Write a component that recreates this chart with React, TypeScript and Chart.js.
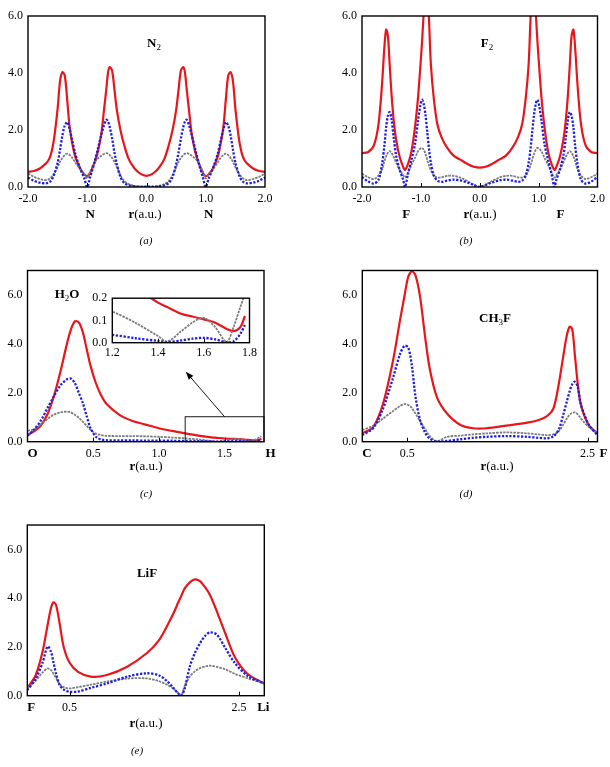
import React, { useEffect, useRef } from "react";
import { Chart, registerables } from "chart.js";
Chart.register(...registerables);

const SERIF = "'Liberation Serif', 'Times New Roman', serif";
const RED = "#e8161b";
const BLUE = "#1c1ce6";
const GRAY = "#7c7c7c";

// ---------------- (a) N2 ----------------
const N2_X = [-2.0, -1.9, -1.8, -1.7, -1.66, -1.62, -1.58, -1.55, -1.5, -1.46, -1.42, -1.38, -1.34, -1.3, -1.25, -1.2, -1.12, -1.05, -1.0, -0.95, -0.88, -0.82, -0.76, -0.72, -0.68, -0.65, -0.62, -0.58, -0.54, -0.5, -0.44, -0.38, -0.3, -0.2, -0.1, 0.0,
  0.1, 0.2, 0.3, 0.38, 0.44, 0.5, 0.54, 0.58, 0.62, 0.65, 0.68, 0.72, 0.76, 0.82, 0.88, 0.95, 1.0, 1.05, 1.12, 1.2, 1.25, 1.3, 1.34, 1.38, 1.42, 1.46, 1.5, 1.55, 1.58, 1.62, 1.66, 1.7, 1.8, 1.9, 2.0];
const N2_RED = [0.53, 0.56, 0.65, 0.82, 0.92, 1.1, 1.45, 1.85, 2.75, 3.7, 4.03, 3.92, 3.1, 2.15, 1.5, 1.05, 0.65, 0.45, 0.38, 0.5, 0.85, 1.25, 1.9, 2.65, 3.4, 4.0, 4.21, 4.08, 3.4, 2.7, 2.0, 1.5, 0.98, 0.65, 0.46, 0.39,
  0.46, 0.65, 0.98, 1.5, 2.0, 2.7, 3.4, 4.08, 4.21, 4.0, 3.4, 2.65, 1.9, 1.25, 0.85, 0.5, 0.38, 0.45, 0.65, 1.05, 1.5, 2.15, 3.1, 3.92, 4.03, 3.7, 2.75, 1.85, 1.45, 1.1, 0.92, 0.82, 0.65, 0.56, 0.53];
const N2_BLUE = [0.33, 0.22, 0.15, 0.13, 0.15, 0.2, 0.33, 0.5, 0.85, 1.3, 1.8, 2.15, 2.28, 2.05, 1.6, 1.15, 0.65, 0.3, 0.0, 0.35, 0.85, 1.35, 1.85, 2.15, 2.36, 2.3, 2.1, 1.7, 1.2, 0.8, 0.35, 0.15, 0.06, 0.02, 0.0, 0.0,
  0.0, 0.02, 0.06, 0.15, 0.35, 0.8, 1.2, 1.7, 2.1, 2.3, 2.36, 2.15, 1.85, 1.35, 0.85, 0.35, 0.0, 0.3, 0.65, 1.15, 1.6, 2.05, 2.28, 2.15, 1.8, 1.3, 0.85, 0.5, 0.33, 0.2, 0.15, 0.13, 0.15, 0.22, 0.33];
const N2_GRAY = [0.47, 0.36, 0.28, 0.24, 0.26, 0.32, 0.41, 0.5, 0.7, 0.88, 1.02, 1.12, 1.17, 1.13, 1.02, 0.85, 0.62, 0.45, 0.3, 0.55, 0.85, 1.0, 1.1, 1.16, 1.19, 1.17, 1.12, 1.02, 0.88, 0.7, 0.42, 0.22, 0.1, 0.04, 0.02, 0.02,
  0.02, 0.04, 0.1, 0.22, 0.42, 0.7, 0.88, 1.02, 1.12, 1.17, 1.19, 1.16, 1.1, 1.0, 0.85, 0.55, 0.3, 0.45, 0.62, 0.85, 1.02, 1.13, 1.17, 1.12, 1.02, 0.88, 0.7, 0.5, 0.41, 0.32, 0.26, 0.24, 0.28, 0.36, 0.47];

// ---------------- (b) F2 ----------------
const F2_X = [-2.0, -1.9, -1.8, -1.72, -1.66, -1.62, -1.59, -1.56, -1.53, -1.5, -1.46, -1.42, -1.36, -1.3, -1.27, -1.22, -1.16, -1.1, -1.05, -1.01, -0.98, -0.95, -0.92, -0.89, -0.86, -0.83, -0.78, -0.72, -0.65, -0.56, -0.45, -0.33, -0.2, -0.1, 0.0,
  0.1, 0.2, 0.33, 0.45, 0.56, 0.65, 0.72, 0.78, 0.83, 0.86, 0.89, 0.92, 0.95, 0.98, 1.01, 1.05, 1.1, 1.16, 1.22, 1.27, 1.3, 1.36, 1.42, 1.46, 1.5, 1.53, 1.56, 1.59, 1.62, 1.66, 1.72, 1.8, 1.9, 2.0];
const F2_RED = [1.19, 1.22, 1.45, 2.2, 3.6, 4.9, 5.52, 5.3, 4.3, 3.3, 2.3, 1.65, 1.05, 0.7, 0.6, 0.8, 1.25, 2.1, 3.1, 4.2, 5.1, 6.2, 7.4, 7.2, 5.8, 4.3, 3.1, 2.2, 1.75, 1.4, 1.11, 0.96, 0.8, 0.71, 0.68,
  0.71, 0.8, 0.96, 1.11, 1.4, 1.75, 2.2, 3.1, 4.3, 5.8, 7.2, 7.4, 6.2, 5.1, 4.2, 3.1, 2.1, 1.25, 0.8, 0.6, 0.7, 1.05, 1.65, 2.3, 3.3, 4.3, 5.3, 5.52, 4.9, 3.6, 2.2, 1.45, 1.22, 1.19];
const F2_BLUE = [0.35, 0.2, 0.12, 0.25, 0.8, 1.45, 2.1, 2.5, 2.63, 2.4, 1.7, 1.1, 0.6, 0.25, 0.0, 0.45, 0.95, 1.5, 2.3, 2.85, 3.06, 2.9, 2.5, 1.9, 1.3, 0.85, 0.4, 0.22, 0.18, 0.22, 0.26, 0.23, 0.15, 0.07, 0.0,
  0.07, 0.15, 0.23, 0.26, 0.22, 0.18, 0.22, 0.4, 0.85, 1.3, 1.9, 2.5, 2.9, 3.06, 2.85, 2.3, 1.5, 0.95, 0.45, 0.0, 0.25, 0.6, 1.1, 1.7, 2.4, 2.63, 2.5, 2.1, 1.45, 0.8, 0.25, 0.12, 0.2, 0.35];
const F2_GRAY = [0.47, 0.35, 0.28, 0.4, 0.62, 0.9, 1.08, 1.2, 1.26, 1.2, 1.05, 0.85, 0.6, 0.42, 0.33, 0.5, 0.78, 1.02, 1.25, 1.35, 1.37, 1.3, 1.15, 0.95, 0.75, 0.58, 0.4, 0.33, 0.34, 0.39, 0.39, 0.33, 0.2, 0.08, 0.0,
  0.08, 0.2, 0.33, 0.39, 0.39, 0.34, 0.33, 0.4, 0.58, 0.75, 0.95, 1.15, 1.3, 1.37, 1.35, 1.25, 1.02, 0.78, 0.5, 0.33, 0.42, 0.6, 0.85, 1.05, 1.2, 1.26, 1.2, 1.08, 0.9, 0.62, 0.4, 0.28, 0.35, 0.47];

// ---------------- (c) H2O ----------------
const H2O_X = [0, 0.05, 0.1, 0.15, 0.2, 0.25, 0.3, 0.33, 0.36, 0.39, 0.42, 0.45, 0.48, 0.52, 0.56, 0.6, 0.7, 0.8, 0.9, 1.0, 1.1, 1.2, 1.3, 1.4, 1.44, 1.5, 1.55, 1.6, 1.65, 1.7, 1.73, 1.76, 1.78];
const H2O_RED = [0.27, 0.42, 0.65, 1.1, 1.85, 2.85, 4.0, 4.58, 4.92, 4.88, 4.5, 3.8, 3.1, 2.4, 1.9, 1.55, 1.1, 0.85, 0.7, 0.55, 0.44, 0.34, 0.25, 0.18, 0.16, 0.13, 0.118, 0.105, 0.09, 0.062, 0.052, 0.07, 0.12];
const H2O_BLUE = [0.25, 0.5, 0.85, 1.35, 1.85, 2.3, 2.55, 2.58, 2.4, 2.0, 1.6, 1.05, 0.55, 0.2, 0.09, 0.06, 0.05, 0.05, 0.045, 0.04, 0.038, 0.035, 0.02, 0.008, 0.003, 0.01, 0.018, 0.022, 0.015, 0.002, 0.006, 0.04, 0.08];
const H2O_GRAY = [0.45, 0.5, 0.7, 0.92, 1.1, 1.2, 1.23, 1.2, 1.1, 0.98, 0.82, 0.65, 0.48, 0.33, 0.27, 0.24, 0.23, 0.23, 0.22, 0.2, 0.17, 0.14, 0.09, 0.03, 0.005, 0.05, 0.09, 0.112, 0.07, 0.003, 0.07, 0.16, 0.22];

// ---------------- (d) CH3F ----------------
const CH3F_X = [0, 0.12, 0.23, 0.34, 0.42, 0.47, 0.51, 0.55, 0.59, 0.64, 0.7, 0.75, 0.83, 0.94, 1.09, 1.23, 1.38, 1.6, 1.83, 1.95, 2.05, 2.12, 2.18, 2.23, 2.27, 2.3, 2.33, 2.36, 2.39, 2.42, 2.46, 2.52, 2.61];
const CH3F_RED = [0.34, 0.6, 1.55, 3.3, 5.0, 6.0, 6.75, 6.97, 6.8, 5.95, 4.2, 2.95, 1.8, 1.15, 0.68, 0.55, 0.55, 0.66, 0.78, 0.88, 1.05, 1.35, 2.35, 3.5, 4.35, 4.7, 4.6, 3.5, 2.4, 1.6, 1.1, 0.65, 0.34];
const CH3F_BLUE = [0.27, 0.55, 1.35, 2.6, 3.6, 3.92, 3.85, 3.1, 1.85, 0.9, 0.35, 0.12, 0.0, 0.03, 0.1, 0.16, 0.2, 0.23, 0.2, 0.16, 0.14, 0.22, 0.5, 1.1, 1.65, 2.05, 2.35, 2.45, 2.25, 1.6, 1.15, 0.65, 0.27];
const CH3F_GRAY = [0.48, 0.65, 0.95, 1.25, 1.46, 1.54, 1.5, 1.38, 1.15, 0.85, 0.5, 0.22, 0.02, 0.2, 0.25, 0.3, 0.34, 0.38, 0.34, 0.3, 0.27, 0.3, 0.42, 0.7, 0.95, 1.1, 1.18, 1.2, 1.12, 0.98, 0.8, 0.58, 0.34];

// ---------------- (e) LiF ----------------
const LIF_X = [0, 0.1, 0.18, 0.24, 0.28, 0.31, 0.34, 0.38, 0.43, 0.5, 0.6, 0.75, 0.94, 1.18, 1.41, 1.55, 1.65, 1.73, 1.78, 1.82, 1.86, 1.92, 1.98, 2.04, 2.1, 2.16, 2.24, 2.34, 2.45, 2.6, 2.8];
const LIF_RED = [0.3, 0.85, 1.8, 2.9, 3.6, 3.83, 3.72, 3.0, 2.0, 1.35, 0.98, 0.78, 0.85, 1.19, 1.74, 2.25, 2.85, 3.4, 3.8, 4.1, 4.4, 4.65, 4.77, 4.7, 4.45, 4.12, 3.45, 2.55, 1.6, 0.9, 0.5];
const LIF_BLUE = [0.23, 0.7, 1.35, 2.02, 1.8, 1.35, 0.9, 0.45, 0.25, 0.16, 0.17, 0.32, 0.5, 0.78, 0.92, 0.84, 0.6, 0.3, 0.1, 0.0, 0.3, 1.2, 1.75, 2.15, 2.45, 2.6, 2.5, 1.95, 1.35, 0.82, 0.5];
const LIF_GRAY = [0.3, 0.62, 0.95, 1.12, 1.05, 0.9, 0.72, 0.48, 0.35, 0.3, 0.35, 0.45, 0.58, 0.7, 0.71, 0.6, 0.45, 0.28, 0.12, 0.02, 0.4, 0.78, 1.0, 1.13, 1.2, 1.23, 1.18, 1.08, 0.9, 0.72, 0.5];

// tick values
const SYM_X_TICKS = [-2, -1, 0, 1, 2];
const SYM_X_MARKS = [-1, 0, 1];
const H2O_X_TICKS = [0.5, 1.0, 1.5];
const MOL_X_TICKS = [0.5, 2.5];
const MAIN_Y_TICKS = [0, 2, 4, 6];
const INSET_X_TICKS = [1.2, 1.4, 1.6, 1.8];
const INSET_Y_TICKS = [0, 0.1, 0.2];

type Part = { t: string; bold?: boolean; sub?: boolean; italic?: boolean };
type Align = "left" | "center" | "right";
type PageText = { parts: Part[]; x: number; y: number; align?: Align; size?: number };
type Atom = { text: string; x: number; row: 1 | 2; align?: Align; dx?: number };

interface PanelDef {
  box: { left: number; top: number; width: number; height: number };
  area: { l: number; t: number; r: number; b: number };
  xMin: number; xMax: number; yMax: number;
  xTicks: number[]; yTicks: number[]; xMarks: number[];
  xs: number[]; red: number[]; blue: number[]; gray: number[];
  atoms: Atom[]; texts: PageText[];
  zoom?: boolean;
  tickPad?: number;
}

function drawParts(ctx: CanvasRenderingContext2D, parts: Part[], x: number, y: number, align: Align, size: number) {
  const fontFor = (p: Part) =>
    `${p.italic ? "italic " : ""}${p.bold ? "bold " : ""}${p.sub ? Math.round(size * 0.72) : size}px ${SERIF}`;
  const widths = parts.map((p) => { ctx.font = fontFor(p); return ctx.measureText(p.t).width; });
  const total = widths.reduce((a, b) => a + b, 0);
  let cx = align === "center" ? x - total / 2 : align === "right" ? x - total : x;
  ctx.textBaseline = "middle";
  ctx.textAlign = "left";
  ctx.fillStyle = "#000";
  parts.forEach((p, i) => {
    ctx.font = fontFor(p);
    ctx.fillText(p.t, cx, y + (p.sub ? size * 0.28 : 0));
    cx += widths[i];
  });
}

function decorPlugin(p: PanelDef) {
  return {
    id: "decor",
    afterDraw(chart: any) {
      const ctx: CanvasRenderingContext2D = chart.ctx;
      const a = chart.chartArea;
      const sx = chart.scales.x;
      const sy = chart.scales.y;
      ctx.save();
      if (p.zoom) {
        ctx.strokeStyle = "#000";
        ctx.lineWidth = 0.9;
        const x0 = sx.getPixelForValue(1.2), x1 = sx.getPixelForValue(1.8);
        const y0 = sy.getPixelForValue(0), y1 = sy.getPixelForValue(1.02);
        ctx.strokeRect(x0, y1, x1 - x0, y0 - y1);
        const ax0 = sx.getPixelForValue(1.5), ay0 = y1;
        const ax1 = sx.getPixelForValue(1.205), ay1 = sy.getPixelForValue(2.86);
        const ang = Math.atan2(ay1 - ay0, ax1 - ax0);
        const L = 8, W = 3;
        const bx = ax1 - L * Math.cos(ang), by = ay1 - L * Math.sin(ang);
        ctx.beginPath(); ctx.moveTo(ax0, ay0); ctx.lineTo(bx, by); ctx.stroke();
        ctx.fillStyle = "#000";
        ctx.beginPath();
        ctx.moveTo(ax1, ay1);
        ctx.lineTo(bx + W * Math.sin(ang), by - W * Math.cos(ang));
        ctx.lineTo(bx - W * Math.sin(ang), by + W * Math.cos(ang));
        ctx.closePath(); ctx.fill();
      }
      ctx.strokeStyle = "#000";
      ctx.lineWidth = 1;
      p.xMarks.forEach((v) => {
        const px = Math.round(sx.getPixelForValue(v)) + 0.5;
        ctx.beginPath(); ctx.moveTo(px, a.bottom); ctx.lineTo(px, a.bottom - 4); ctx.stroke();
      });
      ctx.lineWidth = 1.4;
      ctx.strokeRect(a.left, a.top, a.right - a.left, a.bottom - a.top);
      p.atoms.forEach((at) => {
        drawParts(ctx, [{ t: at.text, bold: true }], sx.getPixelForValue(at.x) + (at.dx || 0),
          a.bottom + (at.row === 1 ? 12 : 27.5), at.align || "center", 13);
      });
      p.texts.forEach((t) => {
        drawParts(ctx, t.parts, t.x - p.box.left, t.y - p.box.top, t.align || "center", t.size || 13);
      });
      ctx.restore();
    },
  };
}

function buildChart(canvas: HTMLCanvasElement, p: PanelDef) {
  const yW = 24, xH = 20;
  const pad = {
    left: p.area.l - p.box.left - yW,
    top: p.area.t - p.box.top,
    right: p.box.left + p.box.width - p.area.r,
    bottom: p.box.top + p.box.height - p.area.b - xH,
  };
  const pts = (ys: number[]) => p.xs.map((x, i) => ({ x, y: ys[i] }));
  const common = { pointRadius: 0, fill: false, tension: 0.3, borderCapStyle: "butt", borderJoinStyle: "round" };
  const tickFont = { family: SERIF, size: 12 };
  return new Chart(canvas, {
    type: "line",
    data: {
      datasets: [
        { ...common, label: "red", data: pts(p.red), borderColor: RED, borderWidth: 2.2, order: 2 },
        { ...common, label: "gray", data: pts(p.gray), borderColor: GRAY, borderWidth: 1.8, borderDash: [2.5, 1], order: 1 },
        { ...common, label: "blue", data: pts(p.blue), borderColor: BLUE, borderWidth: 2.3, borderDash: [2.2, 1.6], order: 0 },
      ] as any,
    },
    options: {
      responsive: false,
      maintainAspectRatio: false,
      animation: false,
      events: [],
      layout: { padding: pad },
      plugins: { legend: { display: false }, tooltip: { enabled: false } },
      scales: {
        x: {
          type: "linear", min: p.xMin, max: p.xMax,
          grid: { display: false, drawTicks: false }, border: { display: false },
          afterBuildTicks: (s: any) => { s.ticks = p.xTicks.map((v) => ({ value: v })); },
          afterFit: (s: any) => { s.height = xH; },
          ticks: { autoSkip: false, maxRotation: 0, padding: p.tickPad ?? 5, color: "#000", font: tickFont,
            callback: (v: any) => Number(v).toFixed(1) },
        },
        y: {
          type: "linear", min: 0, max: p.yMax,
          grid: { display: false, drawTicks: false }, border: { display: false },
          afterBuildTicks: (s: any) => { s.ticks = p.yTicks.map((v) => ({ value: v })); },
          afterFit: (s: any) => { s.width = yW; },
          ticks: { padding: 5, color: "#000", font: tickFont, callback: (v: any) => Number(v).toFixed(1) },
        },
      },
    } as any,
    plugins: [decorPlugin(p)],
  });
}

const RAU: Part[] = [{ t: "r", bold: true }, { t: "(a.u.)" }];
const cap = (s: string, x: number, y: number): PageText => ({ parts: [{ t: s, italic: true }], x, y, size: 11 });

const PANELS: PanelDef[] = [
  {
    box: { left: 0, top: 0, width: 300, height: 255 },
    area: { l: 28, t: 16, r: 265, b: 187 },
    xMin: -2, xMax: 2, yMax: 6, xTicks: SYM_X_TICKS, yTicks: MAIN_Y_TICKS, xMarks: SYM_X_MARKS,
    xs: N2_X, red: N2_RED, blue: N2_BLUE, gray: N2_GRAY,
    atoms: [{ text: "N", x: -0.95, row: 2 }, { text: "N", x: 1.05, row: 2 }],
    texts: [
      { parts: RAU, x: 145, y: 214.5 },
      { parts: [{ t: "N", bold: true }, { t: "2", sub: true }], x: 154, y: 44 },
      cap("(a)", 146, 241),
    ],
  },
  {
    box: { left: 300, top: 0, width: 310, height: 255 },
    area: { l: 362, t: 16, r: 598, b: 187 },
    xMin: -2, xMax: 2, yMax: 6, xTicks: SYM_X_TICKS, yTicks: MAIN_Y_TICKS, xMarks: SYM_X_MARKS,
    xs: F2_X, red: F2_RED, blue: F2_BLUE, gray: F2_GRAY,
    atoms: [{ text: "F", x: -1.25, row: 2 }, { text: "F", x: 1.37, row: 2 }],
    texts: [
      { parts: RAU, x: 480, y: 214.5 },
      { parts: [{ t: "F", bold: true }, { t: "2", sub: true }], x: 487, y: 44 },
      cap("(b)", 466, 241),
    ],
  },
  {
    box: { left: 0, top: 258, width: 300, height: 250 },
    area: { l: 27.5, t: 270.5, r: 264, b: 441.7 },
    xMin: 0, xMax: 1.8, yMax: 7, xTicks: H2O_X_TICKS, yTicks: MAIN_Y_TICKS, xMarks: H2O_X_TICKS,
    xs: H2O_X, red: H2O_RED, blue: H2O_BLUE, gray: H2O_GRAY,
    atoms: [{ text: "O", x: 0, row: 1, align: "left", dx: 0 }, { text: "H", x: 1.8, row: 1, align: "left", dx: 1.5 }],
    texts: [
      { parts: RAU, x: 146, y: 467 },
      { parts: [{ t: "H", bold: true }, { t: "2", sub: true }, { t: "O", bold: true }], x: 67, y: 295 },
      cap("(c)", 146, 494),
    ],
    zoom: true,
  },
  {
    box: { left: 300, top: 258, width: 310, height: 250 },
    area: { l: 362.3, t: 270.5, r: 597.5, b: 441.7 },
    xMin: 0, xMax: 2.61, yMax: 7, xTicks: MOL_X_TICKS, yTicks: MAIN_Y_TICKS, xMarks: MOL_X_TICKS,
    xs: CH3F_X, red: CH3F_RED, blue: CH3F_BLUE, gray: CH3F_GRAY,
    atoms: [{ text: "C", x: 0, row: 1, align: "left", dx: 0 }, { text: "F", x: 2.61, row: 1, align: "left", dx: 2 }],
    texts: [
      { parts: RAU, x: 497, y: 467 },
      { parts: [{ t: "CH", bold: true }, { t: "3", sub: true }, { t: "F", bold: true }], x: 495, y: 319 },
      cap("(d)", 466, 494),
    ],
  },
  {
    box: { left: 0, top: 512, width: 300, height: 255 },
    area: { l: 27.3, t: 525, r: 264.3, b: 695.7 },
    xMin: 0, xMax: 2.8, yMax: 7, xTicks: MOL_X_TICKS, yTicks: MAIN_Y_TICKS, xMarks: MOL_X_TICKS,
    xs: LIF_X, red: LIF_RED, blue: LIF_BLUE, gray: LIF_GRAY,
    atoms: [{ text: "F", x: 0, row: 1, align: "left", dx: 0 }, { text: "Li", x: 2.8, row: 1, align: "center", dx: -1 }],
    texts: [
      { parts: RAU, x: 146, y: 724 },
      { parts: [{ t: "LiF", bold: true }], x: 147, y: 574 },
      cap("(e)", 137, 751),
    ],
  },
];

const INSET: PanelDef = {
  box: { left: 78, top: 286, width: 182, height: 80 },
  area: { l: 112.3, t: 293.3, r: 250, b: 342.7 },
  xMin: 1.2, xMax: 1.8, yMax: 0.2, xTicks: INSET_X_TICKS, yTicks: INSET_Y_TICKS, xMarks: [1.4, 1.6],
  xs: H2O_X, red: H2O_RED, blue: H2O_BLUE, gray: H2O_GRAY,
  atoms: [], texts: [], tickPad: 3,
};

function ChartBox({ def }: { def: PanelDef }) {
  const ref = useRef<HTMLCanvasElement | null>(null);
  useEffect(() => {
    if (!ref.current) return;
    const c = buildChart(ref.current, def);
    return () => c.destroy();
  }, [def]);
  return (
    <canvas
      ref={ref}
      width={def.box.width}
      height={def.box.height}
      style={{ position: "absolute", left: def.box.left, top: def.box.top, width: def.box.width, height: def.box.height }}
    />
  );
}

export default function App() {
  return (
    <div style={{ position: "absolute", left: 0, top: 0, width: 610, height: 767, background: "#fff", overflow: "hidden" }}>
      {PANELS.map((p, i) => (
        <ChartBox key={i} def={p} />
      ))}
      <ChartBox def={INSET} />
    </div>
  );
}
